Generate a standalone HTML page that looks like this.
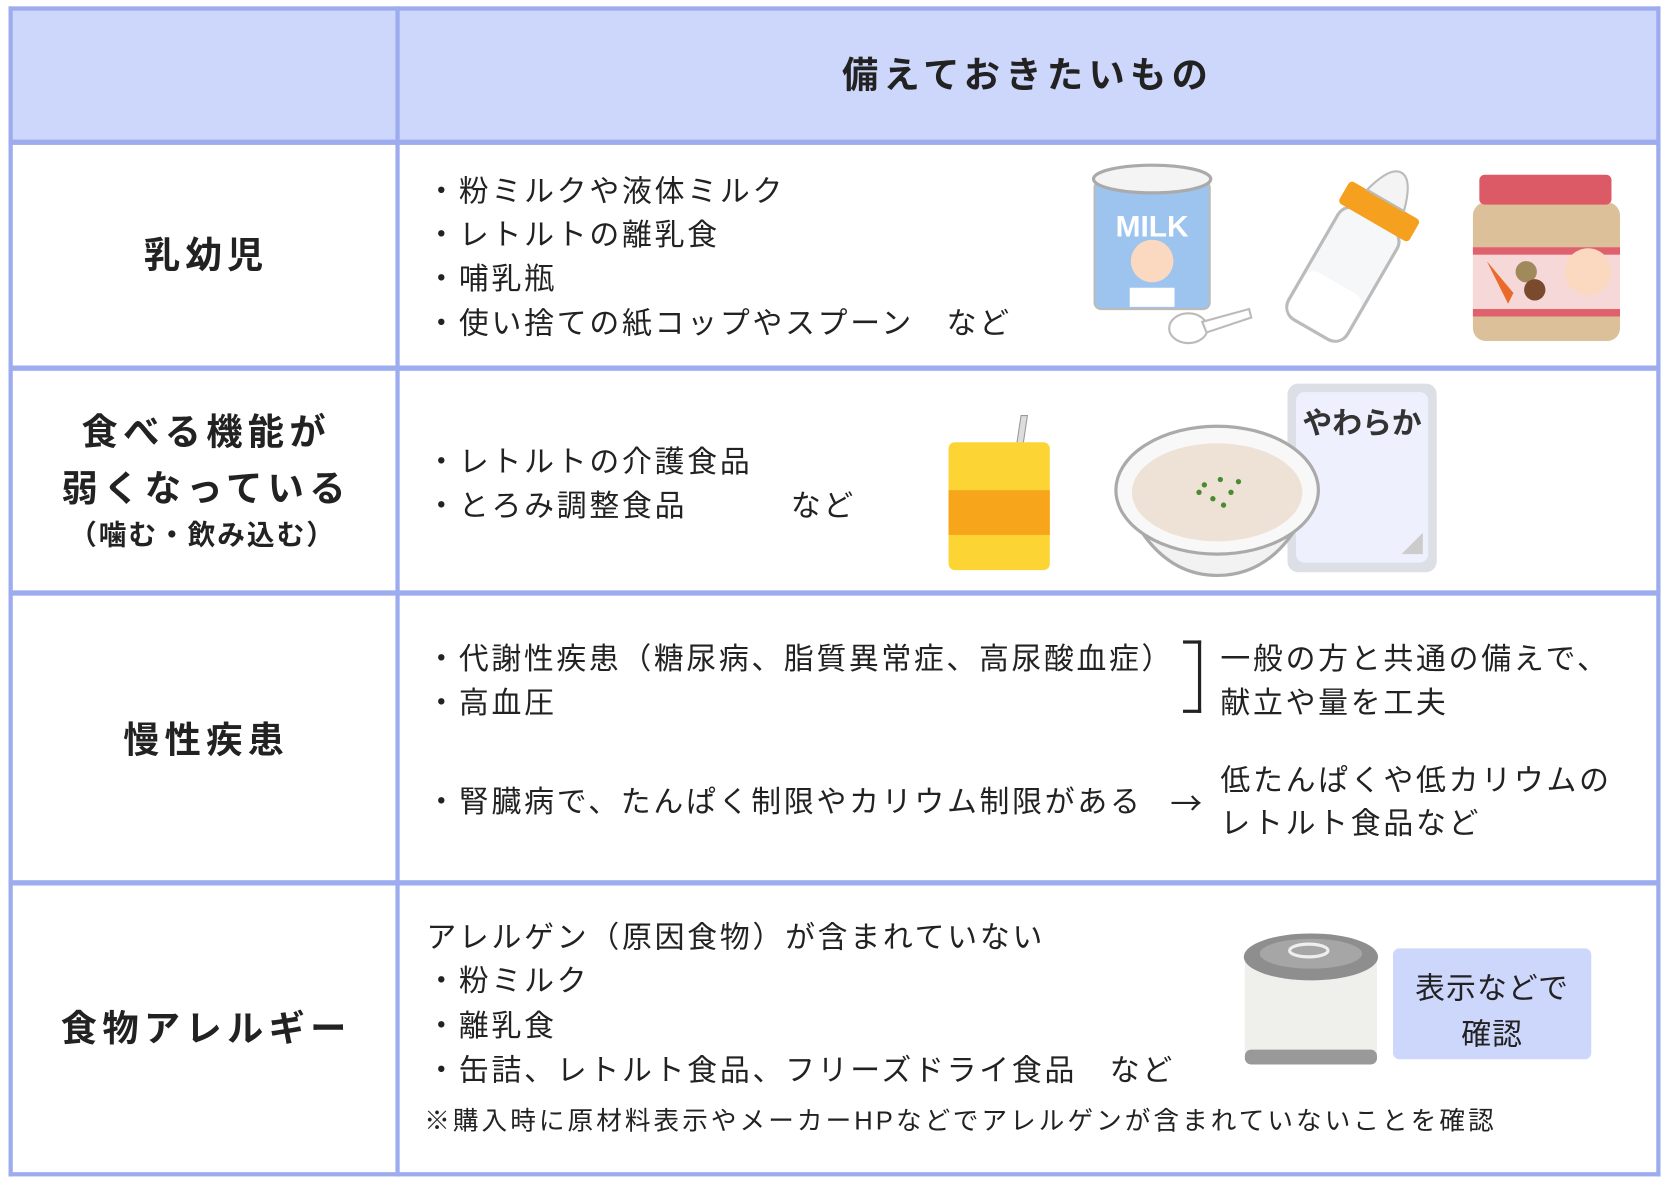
<!DOCTYPE html>
<html><head><meta charset="utf-8"><style>
html,body{margin:0;padding:0;background:#fff;width:1668px;height:1186px;overflow:hidden}
#w{position:absolute;left:0;top:0;width:1565px;height:1113px;transform:scale(1.0658,1.0656);transform-origin:0 0;font-family:"Liberation Sans","Noto Sans CJK JP",sans-serif;color:#222}
.a{position:absolute;white-space:nowrap}
.t{font-size:28px;line-height:30px;letter-spacing:2.6px}
.b{font-weight:bold}
.L{font-size:34px;letter-spacing:5px;padding-left:5px}
.hl{position:absolute;background:#9dacef}
</style></head><body><div id="w">
<div style="position:absolute;left:8px;top:6px;width:1549px;height:127px;background:#cdd6fb"></div>
<div class="hl" style="left:8px;top:6px;width:1550px;height:4px"></div>
<div class="hl" style="left:8px;top:1100px;width:1550px;height:4px"></div>
<div class="hl" style="left:8px;top:6px;width:4px;height:1098px"></div>
<div class="hl" style="left:1554px;top:6px;width:4px;height:1098px"></div>
<div class="hl" style="left:371px;top:6px;width:4px;height:1098px"></div>
<div class="hl" style="left:8px;top:131px;width:1550px;height:5px"></div>
<div class="hl" style="left:8px;top:343px;width:1550px;height:5px"></div>
<div class="hl" style="left:8px;top:554px;width:1550px;height:5px"></div>
<div class="hl" style="left:8px;top:826px;width:1550px;height:5px"></div>

<div class="a b" style="left:790px;top:51px;font-size:34px;line-height:40px;letter-spacing:5px">備えておきたいもの</div>

<div class="a b L" style="left:10px;width:357px;text-align:center;top:220px;line-height:40px">乳幼児</div>
<div class="a b L" style="left:10px;width:357px;text-align:center;top:380px;line-height:53px">食べる機能が<br>弱くなっている</div>
<div class="a b" style="left:10px;width:360px;text-align:center;top:486px;font-size:26px;line-height:32px;letter-spacing:1.8px">（噛む・飲み込む）</div>
<div class="a b L" style="left:10px;width:357px;text-align:center;top:675px;line-height:40px">慢性疾患</div>
<div class="a b L" style="left:10px;width:357px;text-align:center;top:946px;line-height:40px">食物アレルギー</div>

<div class="a t" style="left:400px;top:165px">・粉ミルクや液体ミルク</div>
<div class="a t" style="left:400px;top:206px">・レトルトの離乳食</div>
<div class="a t" style="left:400px;top:247px">・哺乳瓶</div>
<div class="a t" style="left:400px;top:289px">・使い捨ての紙コップやスプーン　など</div>

<div class="a t" style="left:400px;top:419px">・レトルトの介護食品</div>
<div class="a t" style="left:400px;top:460px">・とろみ調整食品</div>
<div class="a t" style="left:742px;top:460px">など</div>

<div class="a t" style="left:400px;top:604px;letter-spacing:2.5px">・代謝性疾患（糖尿病、脂質異常症、高尿酸血症）</div>
<div class="a t" style="left:400px;top:645px">・高血圧</div>
<div style="position:absolute;left:1110px;top:601px;width:14px;height:62px;border:3px solid #222;border-left:none"></div>
<div class="a t" style="left:1145px;top:604px">一般の方と共通の備えで、</div>
<div class="a t" style="left:1145px;top:645px">献立や量を工夫</div>
<div class="a t" style="left:400px;top:738px;letter-spacing:2.6px">・腎臓病で、たんぱく制限やカリウム制限がある</div>
<div class="a" style="left:1098px;top:736px;font-size:30px;line-height:32px;font-family:'Noto Sans CJK JP',sans-serif">→</div>
<div class="a t" style="left:1145px;top:718px">低たんぱくや低カリウムの</div>
<div class="a t" style="left:1145px;top:758px">レトルト食品など</div>

<div class="a t" style="left:400px;top:865px">アレルゲン（原因食物）が含まれていない</div>
<div class="a t" style="left:400px;top:906px">・粉ミルク</div>
<div class="a t" style="left:400px;top:948px">・離乳食</div>
<div class="a t" style="left:400px;top:990px;letter-spacing:2.6px">・缶詰、レトルト食品、フリーズドライ食品　など</div>
<div class="a" style="left:398px;top:1039px;font-size:24px;line-height:28px;letter-spacing:2.9px">※購入時に原材料表示やメーカーHPなどでアレルゲンが含まれていないことを確認</div>

<div style="position:absolute;left:1307px;top:890px;width:186px;height:104px;background:#cdd6fb;border-radius:6px"></div>
<div class="a t" style="left:1307px;width:186px;text-align:center;top:906px;line-height:43px;letter-spacing:1px">表示などで<br>確認</div>

<svg style="position:absolute;left:0;top:0" width="1565" height="1113">
<rect x="1027" y="170" width="108" height="120" rx="6" fill="#9cc4ee" stroke="#bbb" stroke-width="2"/>
<ellipse cx="1081" cy="168" rx="55" ry="13" fill="#f4f4f4" stroke="#aaa" stroke-width="3"/>
<text x="1081" y="222" font-size="28" font-weight="bold" fill="#fff" text-anchor="middle" font-family="Liberation Sans,sans-serif">MILK</text>
<circle cx="1081" cy="245" r="20" fill="#fbd9c0"/>
<path d="M1060 270 h42 v18 h-42z" fill="#fff"/>
<ellipse cx="1115" cy="308" rx="18" ry="14" fill="#fff" stroke="#bbb" stroke-width="2"/>
<path d="M1128 302 L1172 290 L1174 298 L1132 312z" fill="#fff" stroke="#bbb" stroke-width="2"/>
<g transform="rotate(30 1270 240)">
<rect x="1238" y="200" width="64" height="120" rx="14" fill="#f6f7f9" stroke="#bbb" stroke-width="3"/>
<rect x="1240" y="270" width="60" height="48" rx="10" fill="#fff"/>
<rect x="1232" y="180" width="76" height="24" rx="4" fill="#f5a01e"/>
<path d="M1250 180 Q1258 150 1270 150 Q1282 150 1290 180z" fill="#f4f4f4" stroke="#bbb" stroke-width="2"/>
</g>
<rect x="1382" y="190" width="138" height="130" rx="12" fill="#dcc09a"/>
<rect x="1382" y="232" width="138" height="64" fill="#f7d8d8"/>
<rect x="1382" y="232" width="138" height="7" fill="#e0616e"/>
<rect x="1382" y="290" width="138" height="7" fill="#e0616e"/>
<rect x="1388" y="164" width="124" height="28" rx="5" fill="#db5a66"/>
<circle cx="1490" cy="255" r="22" fill="#fbd9c0"/>
<path d="M1395 245 L1415 285 L1420 275z" fill="#e96a2a"/>
<circle cx="1432" cy="255" r="10" fill="#a08a5c"/>
<circle cx="1440" cy="272" r="10" fill="#7a4a2c"/>
<path d="M958 390 L964 390 L958 430 L952 430z" fill="#ddd" stroke="#999"/>
<rect x="890" y="415" width="95" height="120" rx="6" fill="#fcd535"/>
<rect x="890" y="460" width="95" height="42" fill="#f7a51a"/>
<rect x="1208" y="360" width="140" height="177" rx="10" fill="#dcdfe6"/>
<rect x="1216" y="368" width="124" height="160" rx="8" fill="#eef1fd"/>
<text x="1278" y="407" font-size="28" font-weight="bold" fill="#333" text-anchor="middle" font-family="Liberation Sans,Noto Sans CJK JP,sans-serif">やわらか</text>
<path d="M1335 500 L1335 520 L1315 520z" fill="#ccc"/>
<path d="M1060 480 Q1090 540 1142 540 Q1195 540 1225 480z" fill="#f2f2f2" stroke="#aaa" stroke-width="3"/>
<ellipse cx="1142" cy="460" rx="95" ry="60" fill="#f8f8f8" stroke="#aaa" stroke-width="3"/>
<ellipse cx="1142" cy="462" rx="80" ry="46" fill="#eee2d6"/>
<g fill="#4b8b2f"><circle cx="1130" cy="455" r="2.5"/><circle cx="1145" cy="450" r="2.5"/><circle cx="1155" cy="462" r="2.5"/><circle cx="1138" cy="468" r="2.5"/><circle cx="1125" cy="462" r="2.5"/><circle cx="1148" cy="474" r="2.5"/><circle cx="1162" cy="452" r="2.5"/></g>
<rect x="1168" y="900" width="124" height="95" fill="#efefeb"/>
<rect x="1168" y="985" width="124" height="14" rx="6" fill="#999"/>
<ellipse cx="1230" cy="898" rx="63" ry="22" fill="#8e8e8e"/>
<ellipse cx="1230" cy="895" rx="48" ry="14" fill="#a6a6a6"/>
<ellipse cx="1228" cy="892" rx="18" ry="6" fill="none" stroke="#eee" stroke-width="3"/>
</svg>
</div></body></html>
